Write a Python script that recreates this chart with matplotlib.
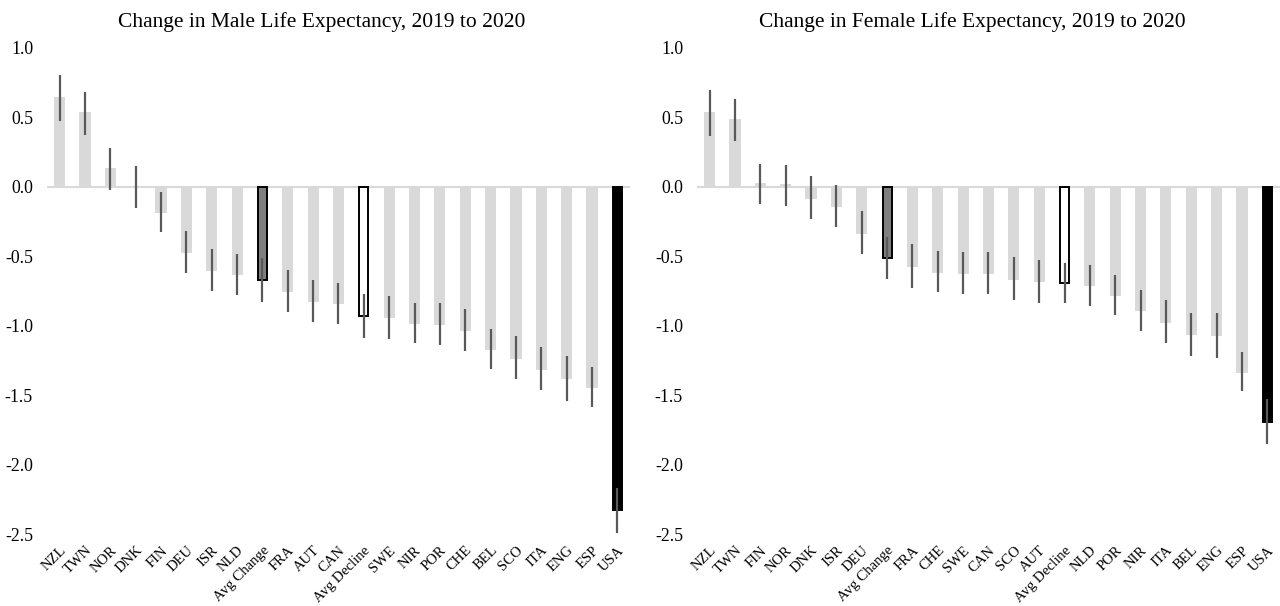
import matplotlib.pyplot as plt
import numpy as np

plt.rcParams['font.family'] = ['Liberation Serif', 'DejaVu Serif']

# Male life expectancy change, 2019 -> 2020 (years), with 95% CI half-widths
male_labels = ['NZL', 'TWN', 'NOR', 'DNK', 'FIN', 'DEU', 'ISR', 'NLD', 'Avg Change',
               'FRA', 'AUT', 'CAN', 'Avg Decline', 'SWE', 'NIR', 'POR', 'CHE', 'BEL',
               'SCO', 'ITA', 'ENG', 'ESP', 'USA']
male_change = [0.64, 0.53, 0.13, 0.00, -0.18, -0.47, -0.60, -0.63, -0.67,
               -0.75, -0.82, -0.84, -0.93, -0.94, -0.98, -0.99, -1.03, -1.17,
               -1.23, -1.31, -1.38, -1.44, -2.33]
male_err = [0.165, 0.155, 0.15, 0.15, 0.145, 0.15, 0.15, 0.15, 0.16,
            0.15, 0.15, 0.15, 0.155, 0.155, 0.145, 0.15, 0.15, 0.145,
            0.155, 0.155, 0.16, 0.145, 0.16]

# Female life expectancy change, 2019 -> 2020
female_labels = ['NZL', 'TWN', 'FIN', 'NOR', 'DNK', 'ISR', 'DEU', 'Avg Change', 'FRA',
                 'CHE', 'SWE', 'CAN', 'SCO', 'AUT', 'Avg Decline', 'NLD', 'POR', 'NIR',
                 'ITA', 'BEL', 'ENG', 'ESP', 'USA']
female_change = [0.53, 0.48, 0.02, 0.01, -0.08, -0.14, -0.33, -0.51, -0.57,
                 -0.61, -0.62, -0.62, -0.66, -0.68, -0.69, -0.71, -0.78, -0.89,
                 -0.97, -1.06, -1.07, -1.33, -1.69]
female_err = [0.165, 0.15, 0.145, 0.15, 0.155, 0.15, 0.155, 0.15, 0.16,
              0.145, 0.15, 0.15, 0.155, 0.155, 0.145, 0.15, 0.145, 0.145,
              0.155, 0.155, 0.16, 0.14, 0.165]

y_ticks = [1.0, 0.5, 0.0, -0.5, -1.0, -1.5, -2.0, -2.5]


def bar_styles(labels):
    faces, edges = [], []
    for lab in labels:
        if lab == 'Avg Change':
            faces.append('#7f7f7f'); edges.append('black')
        elif lab == 'Avg Decline':
            faces.append('white'); edges.append('black')
        elif lab == 'USA':
            faces.append('black'); edges.append('black')
        else:
            faces.append('#d9d9d9'); edges.append('#d9d9d9')
    return faces, edges


def draw_panel(ax, labels, values, errs, title):
    x = np.arange(len(labels))
    faces, edges = bar_styles(labels)
    ax.axhline(0, color='#d9d9d9', lw=1.5, zorder=0)
    ax.bar(x, values, width=0.36, color=faces, edgecolor=edges, linewidth=1.4, zorder=2)
    ax.errorbar(x, values, yerr=errs, fmt='none', ecolor='#595959', elinewidth=1.6,
                capsize=0, zorder=3)
    ax.set_xlim(-0.5, len(labels) - 0.5)
    ax.set_ylim(-2.5, 1.0)
    ax.set_yticks(y_ticks)
    ax.set_yticklabels([f'{t:.1f}' for t in y_ticks], fontsize=12.8)
    ax.set_xticks(x)
    ax.set_xticklabels(labels, rotation=45, ha='right', rotation_mode='anchor', fontsize=10.5)
    ax.tick_params(axis='both', length=0)
    ax.tick_params(axis='y', pad=10)
    ax.tick_params(axis='x', pad=7)
    for spine in ax.spines.values():
        spine.set_visible(False)
    ax.set_title(title, fontsize=15.5, pad=15, x=0.472)


fig = plt.figure(figsize=(12.8, 6.06), dpi=100)
ax1 = fig.add_axes([0.0367, 0.1188, 0.4555, 0.802])
ax2 = fig.add_axes([0.5445, 0.1188, 0.4555, 0.802])

draw_panel(ax1, male_labels, male_change, male_err,
           'Change in Male Life Expectancy, 2019 to 2020')
draw_panel(ax2, female_labels, female_change, female_err,
           'Change in Female Life Expectancy, 2019 to 2020')

fig.savefig('out.png', dpi=100, facecolor='white')
